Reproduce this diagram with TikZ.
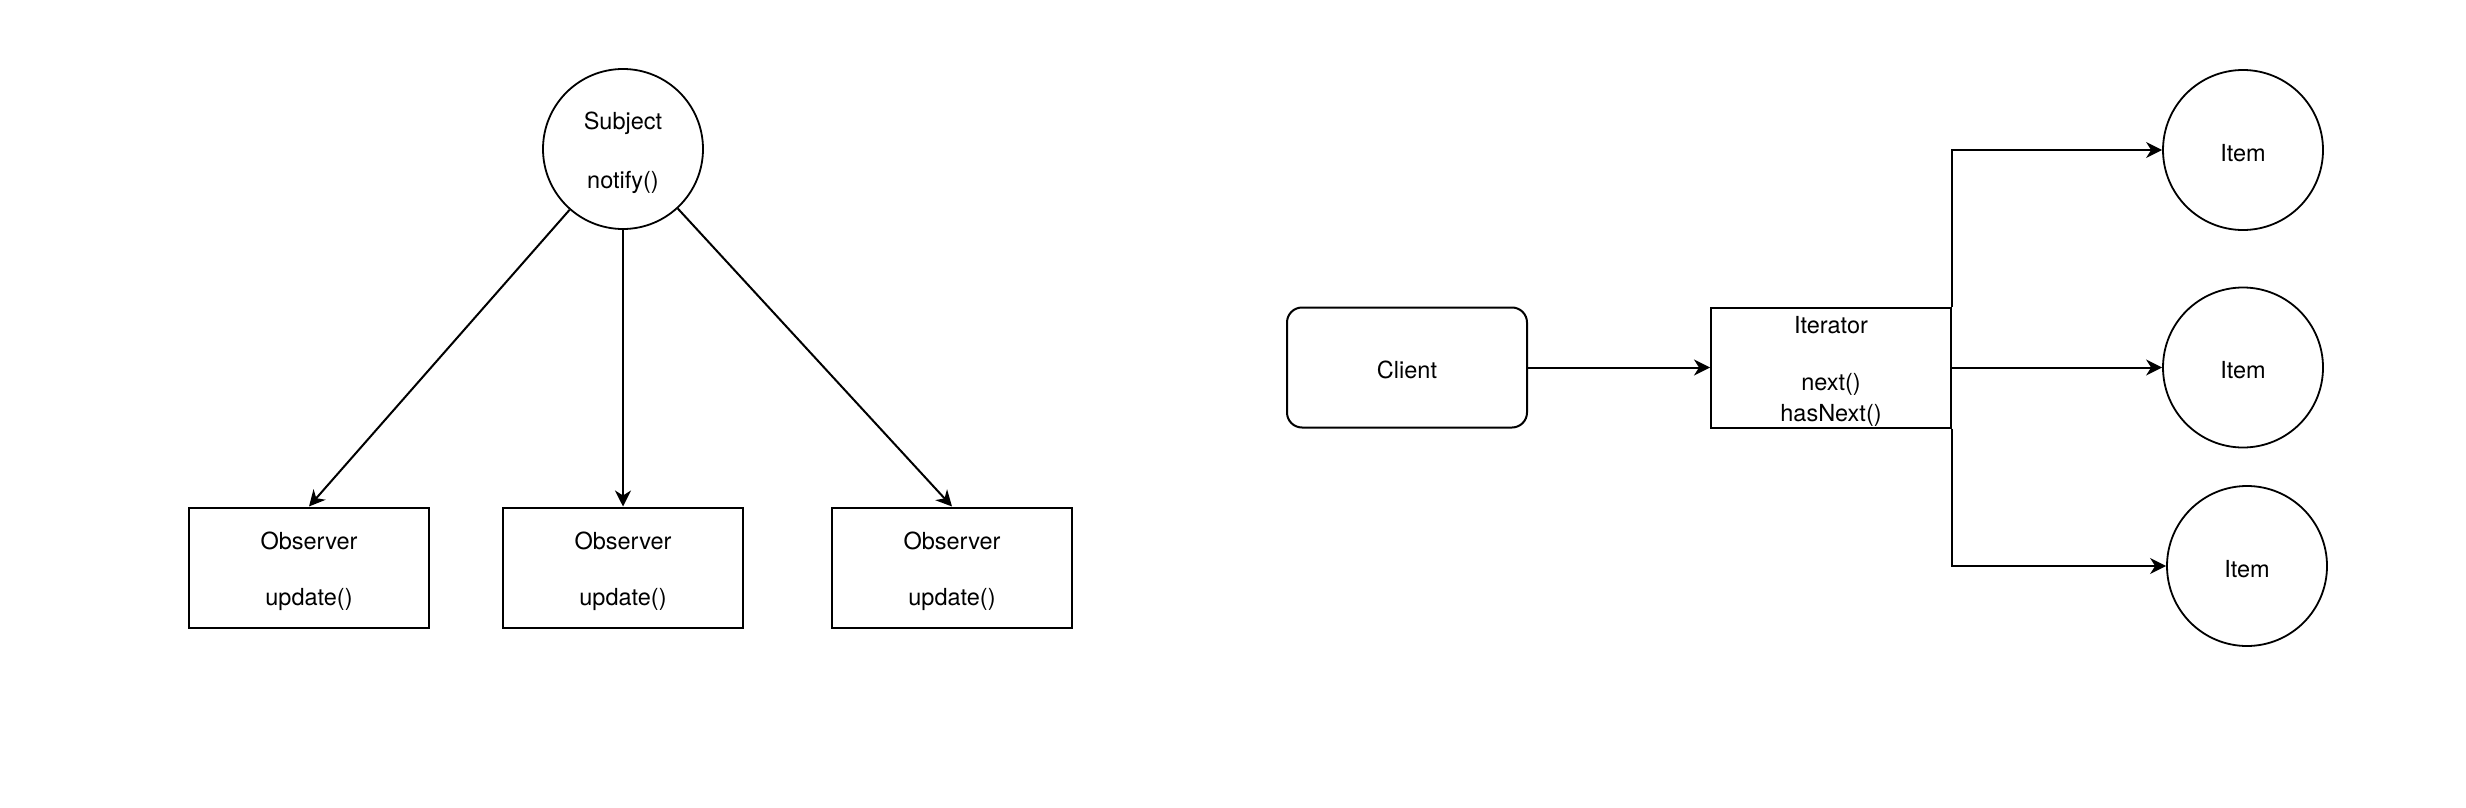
\documentclass[tikz,border=0pt]{standalone}
\usepackage{fontspec}
\setmainfont{TeX Gyre Heros}
\usetikzlibrary{arrows.meta}
\newcommand\lnstrut{\rule[-3pt]{0pt}{28.2pt}}
\begin{document}
\begin{tikzpicture}[x=1pt,y=-1pt,
  txt/.style={font=\fontsize{23.5}{28.2}\selectfont, align=center, inner sep=0pt},
  ovalnode/.style={txt, draw, circle, line width=1.8pt, minimum size=160pt},
  boxnode/.style={txt, draw, rectangle, line width=2pt, minimum width=240pt, minimum height=120pt},
  roundnode/.style={boxnode, rounded corners=15pt},
  arr/.style={line width=2pt, -{Stealth[length=16pt,width=16pt,inset=5pt]}},
]
\useasboundingbox (0,0) rectangle (2466,808);
\fill[white] (0,0) rectangle (2466,808);

% Observer pattern
\node[ovalnode] (subj) at (623,149) {\lnstrut Subject\\\lnstrut\\\lnstrut notify()};
\node[boxnode] (obs1) at (309,567.5) {\lnstrut Observer\\\lnstrut\\\lnstrut update()};
\node[boxnode] (obs2) at (623,567.5) {\lnstrut Observer\\\lnstrut\\\lnstrut update()};
\node[boxnode] (obs3) at (952,567.5) {\lnstrut Observer\\\lnstrut\\\lnstrut update()};
\draw[arr] (subj) -- (obs1.north);
\draw[arr] (subj) -- (obs2.north);
\draw[arr] (subj) -- (obs3.north);

% Iterator pattern
\node[roundnode] (client) at (1407,367.5) {\lnstrut Client};
\node[boxnode] (iter) at (1831,367.5) {\lnstrut Iterator\\\lnstrut\\\lnstrut next()\\\lnstrut hasNext()};
\node[ovalnode] (item1) at (2243,150) {\lnstrut Item};
\node[ovalnode] (item2) at (2243,367.5) {\lnstrut Item};
\node[ovalnode] (item3) at (2247,566) {\lnstrut Item};
\draw[arr] (client) -- (iter);
\draw[arr] (iter.north east) |- (item1.west);
\draw[arr] (iter.east) -- (item2.west);
\draw[arr] (iter.south east) |- (item3.west);
\end{tikzpicture}
\end{document}
